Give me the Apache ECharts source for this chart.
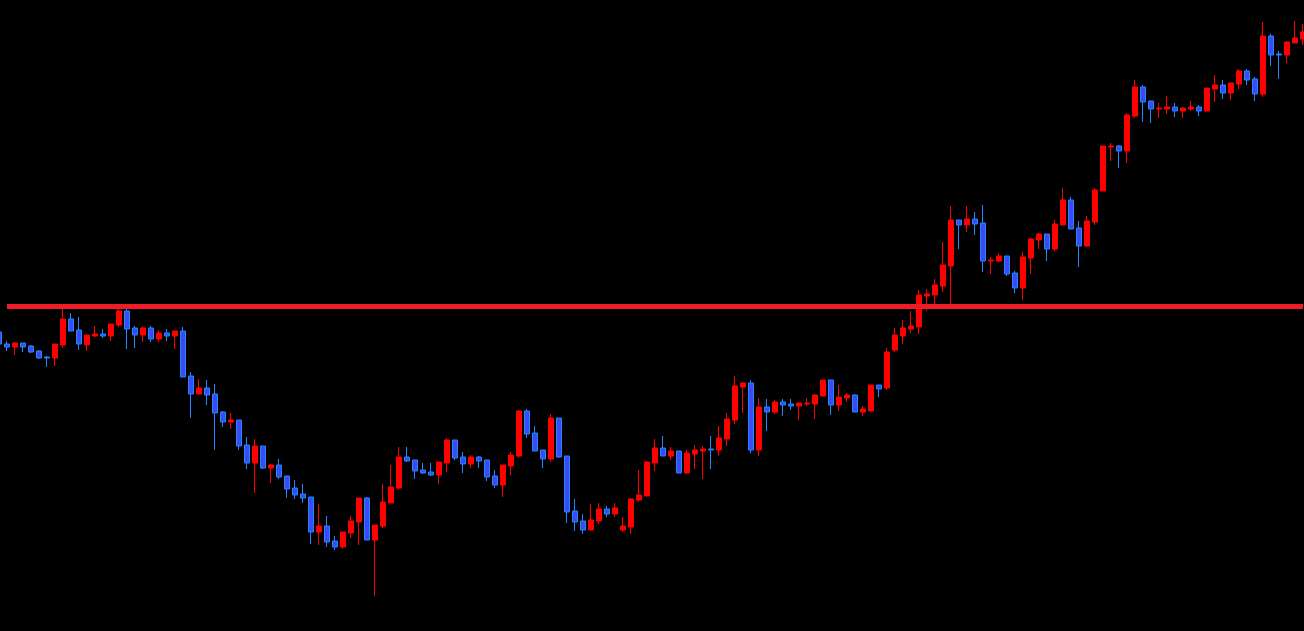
<!DOCTYPE html>
<html>
<head>
<meta charset="utf-8">
<script src="https://cdn.jsdelivr.net/npm/echarts@6/dist/echarts.min.js"></script>
<style>
  html, body { margin: 0; padding: 0; background: #000; overflow: hidden; }
  #wrap { position: relative; width: 1304px; height: 631px; overflow: hidden; }
  /* the plot runs a few px past both window edges, as in the original */
  #chart { position: absolute; left: -5px; top: 0; width: 1312px; height: 631px; }
</style>
</head>
<body>
<div id="wrap"><div id="chart"></div></div>
<script>
// price levels (arbitrary units, higher = up)
var openVals = [
  299, 287, 284, 288, 285, 280, 274, 273, 286, 312, 301, 286, 295, 297, 295, 306, 320, 303, 296, 303,
  292, 298, 295, 300, 255, 237, 243, 237, 219, 209, 211, 186, 168, 185, 163, 166, 155, 143, 137, 134,
  99, 105, 90, 84, 98, 109, 133, 91, 105, 128, 143, 174, 171, 161, 159, 156, 168, 191, 174, 167,
  174, 171, 155, 146, 165, 175, 220, 198, 181, 172, 213, 175, 120, 110, 101, 110, 122, 117, 101, 104,
  131, 135, 168, 183, 175, 180, 158, 177, 180, 182, 181, 192, 211, 244, 248, 181, 224, 219, 229, 227,
  225, 227, 227, 235, 251, 226, 233, 236, 219, 220, 246, 243, 281, 295, 302, 304, 335, 336, 345, 365,
  411, 406, 412, 408, 370, 370, 375, 358, 343, 373, 391, 397, 382, 406, 431, 403, 385, 409, 440, 484,
  485, 480, 515, 544, 530, 522, 522, 524, 520, 522, 524, 520, 542, 546, 538, 547, 560, 552, 537, 595,
  577, 576, 588, 592
];
var closeVals = [
  287, 284, 288, 284, 279, 273, 273, 287, 312, 300, 287, 296, 297, 295, 307, 320, 302, 296, 303, 292,
  298, 295, 300, 254, 237, 243, 236, 218, 209, 211, 185, 168, 185, 163, 166, 154, 142, 136, 133, 99,
  105, 89, 84, 99, 110, 133, 91, 106, 129, 144, 174, 170, 160, 158, 156, 169, 191, 173, 167, 174,
  170, 154, 146, 166, 176, 220, 197, 180, 172, 213, 174, 119, 109, 101, 111, 122, 117, 123, 105, 132,
  136, 169, 183, 175, 180, 158, 178, 181, 182, 181, 193, 212, 245, 248, 181, 224, 219, 229, 226, 225,
  228, 228, 236, 251, 226, 234, 236, 219, 222, 246, 242, 279, 296, 303, 305, 336, 337, 346, 366, 411,
  406, 412, 407, 370, 371, 375, 357, 343, 374, 392, 397, 382, 407, 431, 402, 385, 410, 441, 485, 485,
  480, 516, 544, 529, 522, 523, 524, 520, 523, 524, 520, 543, 546, 538, 548, 560, 551, 537, 595, 576,
  576, 589, 593, 599
];
var lowVals = [
  284, 280, 276, 279, 278, 272, 264, 265, 283, 300, 281, 280, 294, 293, 290, 304, 282, 283, 289, 289,
  289, 290, 282, 254, 213, 237, 226, 181, 204, 202, 181, 162, 138, 162, 148, 152, 133, 132, 128, 87,
  86, 84, 81, 82, 93, 86, 91, 35, 103, 128, 141, 169, 152, 157, 155, 147, 159, 171, 158, 163,
  163, 150, 143, 134, 156, 173, 193, 180, 163, 169, 173, 108, 100, 97, 101, 107, 114, 114, 99, 97,
  129, 135, 160, 175, 171, 158, 157, 162, 152, 162, 175, 185, 207, 218, 178, 175, 200, 217, 215, 221,
  211, 225, 212, 234, 216, 220, 229, 219, 215, 220, 234, 241, 279, 287, 298, 297, 320, 327, 339, 327,
  382, 399, 396, 359, 357, 369, 355, 338, 331, 357, 382, 370, 380, 406, 402, 364, 384, 406, 440, 470,
  463, 468, 513, 509, 508, 513, 517, 514, 513, 520, 515, 520, 529, 532, 531, 542, 546, 530, 534, 565,
  552, 568, 588, 586
];
var highVals = [
  301, 290, 289, 288, 286, 281, 275, 287, 322, 318, 314, 296, 305, 302, 307, 322, 322, 305, 305, 305,
  301, 302, 300, 304, 259, 252, 251, 247, 220, 218, 211, 194, 192, 185, 167, 172, 155, 151, 147, 134,
  127, 115, 95, 99, 115, 133, 134, 106, 147, 166, 184, 184, 171, 168, 168, 169, 193, 191, 179, 176,
  175, 171, 161, 166, 179, 221, 222, 205, 181, 217, 213, 175, 132, 117, 127, 128, 125, 128, 114, 133,
  161, 170, 192, 195, 184, 180, 181, 186, 185, 195, 205, 218, 255, 249, 251, 233, 232, 231, 232, 232,
  228, 233, 237, 251, 251, 246, 238, 237, 225, 246, 246, 283, 303, 311, 320, 341, 342, 352, 389, 425,
  411, 425, 419, 426, 374, 378, 375, 360, 379, 393, 398, 397, 411, 443, 434, 410, 415, 443, 485, 488,
  486, 518, 551, 546, 530, 528, 535, 528, 524, 530, 526, 543, 556, 551, 548, 562, 562, 554, 609, 597,
  580, 590, 610, 607
];
var levelValue = 324.5;
var levelStart = 1;

var categories = openVals.map(function(v, i) { return String(i + 1); });
var candleData = openVals.map(function(v, i) {
  return [openVals[i], closeVals[i], lowVals[i], highVals[i]];
});
var levelData = categories.map(function(c, i) {
  return i >= levelStart ? levelValue : null;
});

var chart = echarts.init(document.getElementById("chart"));
chart.setOption({
  backgroundColor: "#000000",
  animation: false,
  grid: {
    left: 0,
    right: 0,
    top: 0,
    bottom: 0
  },
  xAxis: {
    type: "category",
    data: categories,
    boundaryGap: true,
    show: false
  },
  yAxis: {
    type: "value",
    min: 0,
    max: 631,
    show: false,
    splitLine: { show: false }
  },
  series: [
    {
      type: "candlestick",
      data: candleData,
      barWidth: 5,
      itemStyle: {
        color: "#ff0000",
        borderColor: "#ff0000",
        color0: "#3f48f5",
        borderColor0: "#1e88ff",
        borderWidth: 1
      }
    },
    {
      type: "line",
      data: levelData,
      showSymbol: false,
      symbol: "none",
      z: 5,
      lineStyle: {
        color: "#ee1c24",
        width: 5,
        cap: "butt"
      }
    }
  ]
});
</script>
</body>
</html>
